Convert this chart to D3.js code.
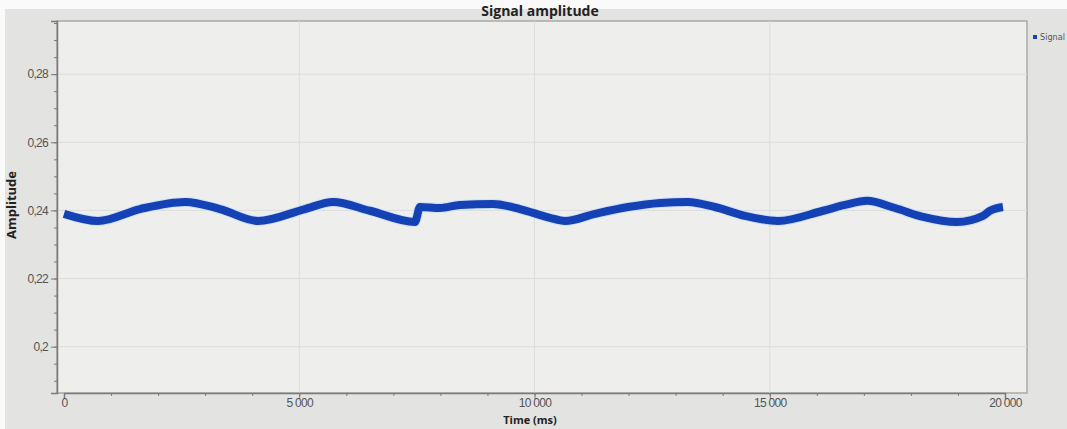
<!DOCTYPE html>
<html>
<head>
<meta charset="utf-8">
<script src="https://cdn.jsdelivr.net/npm/d3@7"></script>
<style>
  html, body { margin: 0; padding: 0; background: #f7f7f7; }
  svg { display: block; font-family: "DejaVu Sans Condensed", "DejaVu Sans", sans-serif; }
</style>
</head>
<body>
<div id="chart"></div>
<script>

// Data (time in ms, amplitude)
var times = [0, 723, 1615, 2572, 3315, 4123, 5122, 5717, 6503, 7460, 7566, 7991, 8416, 9118, 9692,
             10329, 10648, 11286, 11987, 12667, 13262, 13836, 14474, 15175, 16132, 16599, 17067,
             17662, 18257, 18980, 19532, 19681, 19957];
var amplitude = [0.2390, 0.2369, 0.2404, 0.2425, 0.2404, 0.2369, 0.2404, 0.2425, 0.2399, 0.2366, 0.2410,
                 0.2407, 0.2416, 0.2419, 0.2404, 0.2378, 0.2369, 0.2390, 0.2410, 0.2422, 0.2425, 0.2410,
                 0.2384, 0.2369, 0.2399, 0.2416, 0.2428, 0.2407, 0.2381, 0.2366, 0.2384, 0.2399, 0.2410];

var xTicks = [0, 5000, 10000, 15000, 20000];
var xTickLabels = ['0', '5 000', '10 000', '15 000', '20 000'];
var yTicks = [0.2, 0.22, 0.24, 0.26, 0.28];
var yTickLabels = ['0,2', '0,22', '0,24', '0,26', '0,28'];

var title = 'Signal amplitude';
var xTitle = 'Time (ms)';
var yTitle = 'Amplitude';
var seriesName = 'Signal';


var widthCont = 1067,
    heightCont = 429;

var plot = {left: 57, top: 21, right: 1027, bottom: 393};

var svg = d3.select('#chart').append('svg')
  .attr('width', widthCont)
  .attr('height', heightCont);

// Background (photo of a screen: a bright band top and left)
svg.append('rect')
  .attr('width', widthCont).attr('height', heightCont)
  .attr('fill', '#e3e3e1');
svg.append('rect')
  .attr('width', widthCont).attr('height', 9)
  .attr('fill', '#fafafa');
svg.append('rect')
  .attr('width', 5).attr('height', heightCont)
  .attr('fill', '#fafafa');

// Plot area
svg.append('rect')
  .attr('x', plot.left).attr('y', plot.top)
  .attr('width', plot.right - plot.left).attr('height', plot.bottom - plot.top)
  .attr('fill', '#eeeeec')
  .attr('stroke', '#9a9a9a')
  .attr('stroke-width', 1.2);

var x = d3.scaleLinear().domain([0, 20000]).range([64, 1005]);
var y = d3.scaleLinear().domain([0.1864, 0.2956]).range([plot.bottom, plot.top]);

// Grid
svg.append('g').selectAll('line')
  .data(yTicks)
  .enter().append('line')
  .attr('x1', plot.left).attr('x2', plot.right)
  .attr('y1', function(d){ return y(d); })
  .attr('y2', function(d){ return y(d); })
  .attr('stroke', '#dcdcda');

svg.append('g').selectAll('line')
  .data(xTicks.slice(1, -1))
  .enter().append('line')
  .attr('y1', plot.top).attr('y2', plot.bottom)
  .attr('x1', function(d){ return x(d); })
  .attr('x2', function(d){ return x(d); })
  .attr('stroke', '#dcdcda');

// Y axis
var yAxis = d3.axisLeft(y)
  .tickValues(yTicks)
  .tickFormat(function(d, i){ return yTickLabels[i]; })
  .tickSize(6);
var yMinor = d3.axisLeft(y)
  .tickValues(d3.range(0.19, 0.2951, 0.005))
  .tickFormat('')
  .tickSize(3);

var gy = svg.append('g').attr('transform', 'translate(' + plot.left + ',0)').call(yAxis);
svg.append('g').attr('transform', 'translate(' + plot.left + ',0)').call(yMinor)
  .select('.domain').remove();

// X axis
var xAxis = d3.axisBottom(x)
  .tickValues(xTicks)
  .tickFormat(function(d, i){ return xTickLabels[i]; })
  .tickSize(6);
var xMinor = d3.axisBottom(x)
  .tickValues(d3.range(0, 20001, 1000))
  .tickFormat('')
  .tickSize(3);

var gx = svg.append('g').attr('transform', 'translate(0,' + plot.bottom + ')').call(xAxis);
svg.append('g').attr('transform', 'translate(0,' + plot.bottom + ')').call(xMinor)
  .select('.domain').remove();

svg.selectAll('.domain').attr('stroke', '#7a7a7a').attr('stroke-width', 1.5);
svg.selectAll('.tick line').attr('stroke', '#7a7a7a');
svg.selectAll('.tick text')
  .attr('fill', '#555')
  .style('font-size', '12px')
  .style('letter-spacing', '-0.7px');
gx.selectAll('.tick text').attr('y', 5).attr('dy', '0.75em');

// Series line
var line = d3.line()
  .x(function(d){ return x(d[0]); })
  .y(function(d){ return y(d[1]); })
  .curve(d3.curveMonotoneX);

var points = times.map(function(t, i){ return [t, amplitude[i]]; });

svg.append('path')
  .datum(points)
  .attr('d', line)
  .attr('fill', 'none')
  .attr('stroke', '#cfe0f5')
  .attr('stroke-width', 10)
  .attr('stroke-linejoin', 'round');

svg.append('path')
  .datum(points)
  .attr('d', line)
  .attr('fill', 'none')
  .attr('stroke', '#1442b4')
  .attr('stroke-width', 8)
  .attr('stroke-linejoin', 'round');

// Titles (kept just inside the edges)
svg.append('text')
  .attr('x', 540).attr('y', 16)
  .attr('text-anchor', 'middle')
  .style('font-family', '"Open Sans", sans-serif')
  .style('font-weight', 'bold')
  .style('font-size', '14px')
  .attr('fill', '#222')
  .text(title);

svg.append('text')
  .attr('x', 530).attr('y', 424)
  .attr('text-anchor', 'middle')
  .style('font-family', '"Open Sans", sans-serif')
  .style('font-weight', 'bold')
  .style('font-size', '11px')
  .attr('fill', '#222')
  .text(xTitle);

svg.append('text')
  .attr('transform', 'translate(16,205) rotate(-90)')
  .attr('text-anchor', 'middle')
  .style('font-family', '"Open Sans", sans-serif')
  .style('font-weight', 'bold')
  .style('font-size', '13px')
  .attr('fill', '#222')
  .text(yTitle);

// Legend
svg.append('rect')
  .attr('x', 1033).attr('y', 35)
  .attr('width', 4).attr('height', 4)
  .attr('fill', '#1442b4');
svg.append('text')
  .attr('x', 1040).attr('y', 40)
  .style('font-size', '9px')
  .attr('fill', '#555')
  .text(seriesName);

</script>
</body>
</html>
